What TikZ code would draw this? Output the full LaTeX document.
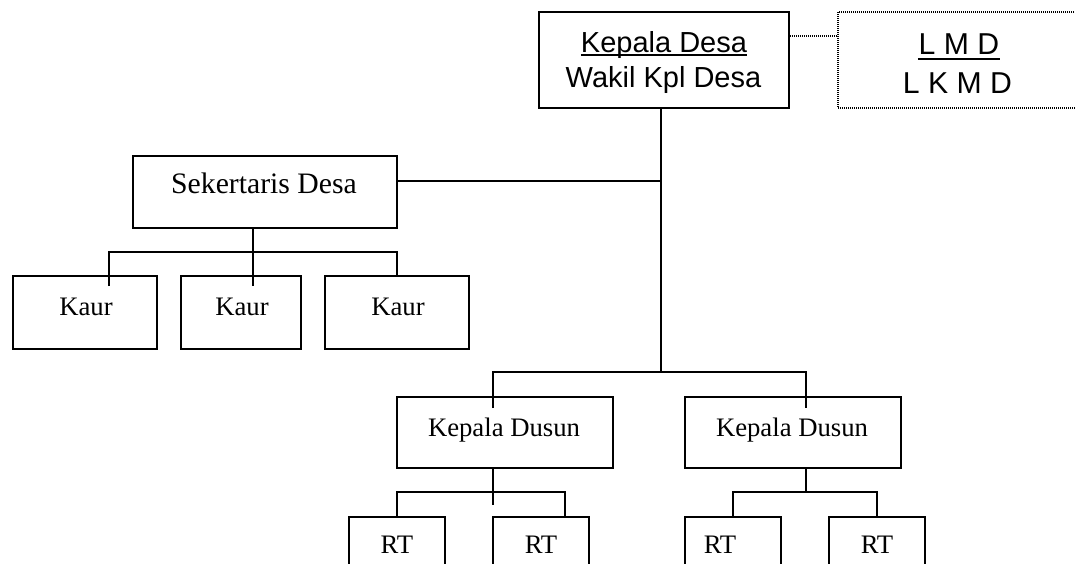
\documentclass[tikz,border=0pt]{standalone}
\usepackage{fontspec}
\setmainfont{Liberation Serif}
\newfontfamily\arialf{Liberation Sans}
\newcommand{\ulA}[1]{\setbox0\hbox{#1}\rlap{\rule[-0.15em]{\wd0}{0.08em}}\box0}
\newcommand{\ulB}[1]{\setbox0\hbox{#1}\rlap{\hspace{-0.03em}\rule[-0.21em]{\dimexpr\wd0+0.06em\relax}{0.085em}}\box0}
\tikzset{
  box/.style={draw, line width=1.8pt, rectangle, inner sep=0pt, fill=none},
  dbox/.style={draw, line width=1.3pt, dash pattern=on 1pt off 1pt, rectangle, inner sep=0pt},
  conn/.style={line width=1.8pt},
  dconn/.style={line width=1.3pt, dash pattern=on 1pt off 1pt},
  txt/.style={inner sep=0pt, anchor=base},
  sansA/.style={font=\arialf\fontsize{29}{30}\selectfont},
  sansB/.style={font=\arialf\fontsize{30.2}{32}\selectfont},
  serifA/.style={font=\fontsize{29.7}{31}\selectfont},
  serifB/.style={font=\fontsize{26.7}{28}\selectfont},
}
\begin{document}
\begin{tikzpicture}[x=1pt,y=-1pt]
\useasboundingbox (0,0) rectangle (1075,563);
\clip (0,0) rectangle (1075,563);
\fill[white] (0,0) rectangle (1075,563);
% boxes
\node[box, minimum width=250pt, minimum height=96pt] (kd) at (664,60) {};
\node[dbox, minimum width=262pt, minimum height=96pt] (lmd) at (969,60) {};
\node[box, minimum width=264pt, minimum height=72pt] (sek) at (265,192) {};
\node[box, minimum width=144pt, minimum height=73pt] (kaur1) at (85,312.5) {};
\node[box, minimum width=120pt, minimum height=73pt] (kaur2) at (241,312.5) {};
\node[box, minimum width=144pt, minimum height=73pt] (kaur3) at (397,312.5) {};
\node[box, minimum width=216pt, minimum height=71pt] (dus1) at (505,432.5) {};
\node[box, minimum width=216pt, minimum height=71pt] (dus2) at (793,432.5) {};
\node[box, minimum width=96pt, minimum height=83pt] (rt1) at (397,558.5) {};
\node[box, minimum width=96pt, minimum height=83pt] (rt2) at (541,558.5) {};
\node[box, minimum width=96pt, minimum height=83pt] (rt3) at (733,558.5) {};
\node[box, minimum width=96pt, minimum height=83pt] (rt4) at (877,558.5) {};
% texts
\node[txt, sansA] (kdt1) at (664,52) {\ulA{Kepala Desa}};
\node[txt, sansA] (kdt2) at (663.5,87) {Wakil Kpl Desa};
\node[txt, sansB] (lmdt1) at (959,54) {\ulB{L M D}};
\node[txt, sansB] (lmdt2) at (957.5,93) {L K M D};
\node[txt, serifA] (sekt) at (264,193) {Sekertaris Desa};
\node[txt, serifB] (kaurt1) at (86,315) {Kaur};
\node[txt, serifB] (kaurt2) at (242,315) {Kaur};
\node[txt, serifB] (kaurt3) at (398,315) {Kaur};
\node[txt, serifB] (dust1) at (504,436) {Kepala Dusun};
\node[txt, serifB] (dust2) at (792,436) {Kepala Dusun};
\node[txt, serifB] (rtt1) at (397,553) {RT};
\node[txt, serifB] (rtt2) at (541,553) {RT};
\node[txt, serifB] (rtt3) at (720,553) {RT};
\node[txt, serifB] (rtt4) at (877,553) {RT};
% junction coordinates
\coordinate (js) at (661,181);
\coordinate (jd) at (661,372);
\coordinate (dl) at (838,36);
\coordinate (d1e) at (493,408);
\coordinate (d2e) at (806,408);
\coordinate (kb) at (253,252);
\coordinate (k1e) at (109,286);
\coordinate (k2e) at (253,286);
\coordinate (r1e) at (493,505);
\coordinate (rb1) at (565,492);
\coordinate (rb2) at (806,492);
% connectors
\draw[dconn] (kd.east |- dl) -- (lmd.west |- dl);
\draw[conn] (kd.south -| jd) -- (jd);
\draw[conn] (sek.east |- js) -- (js);
\draw[conn] (d1e) |- (jd) -| (d2e);
\draw[conn] (sek.south -| k2e) -- (k2e);
\draw[conn] (k1e) -- (k1e |- kb) -- (kb) -| (kaur3.north);
\draw[conn] (dus1.south -| r1e) -- (r1e);
\draw[conn] (rt1.north) |- (rb1) -- (rb1 |- rt2.north);
\draw[conn] (dus2.south -| rb2) -- (rb2);
\draw[conn] (rt3.north) |- (rb2) -| (rt4.north);
\end{tikzpicture}
\end{document}
